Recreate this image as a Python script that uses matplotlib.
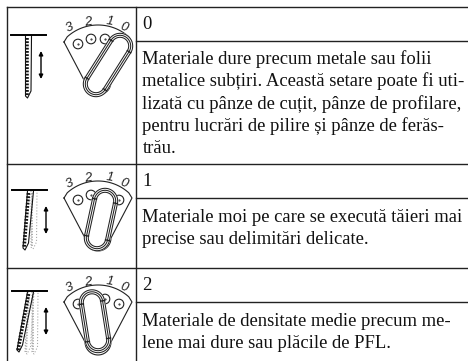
import numpy as np
import matplotlib
matplotlib.use("Agg")
import matplotlib.pyplot as plt

W, H = 468, 361

setari = ["0", "1", "2"]
texte = [
    ["Materiale dure precum metale sau folii",
     "metalice subțiri. Această setare poate fi uti-",
     "lizată cu pânze de cuțit, pânze de profilare,",
     "pentru lucrări de pilire și pânze de ferăs-",
     "trău."],
    ["Materiale moi pe care se execută tăieri mai",
     "precise sau delimitări delicate."],
    ["Materiale de densitate medie precum me-",
     "lene mai dure sau plăcile de PFL."],
]
y_numar = [29, 186.5, 290.5]
y_text = [64, 221.5, 325.5]
linii_rand = [7, 163.5, 267.5]
linii_sub = [41, 198, 302]
# decalaj pe verticala pentru fiecare desen
dy_desen = [0, 155, 256]
dy_dial = [0, 156, 260]
x_bara = [(11, 46), (12, 47), (12, 47)]
x_sageata = [41, 46, 46]
# capsula: centru sus, centru jos
capsule = [((120, 46), (96, 84)), ((105, 46), (97, 83)), ((92, 46.5), (98, 84))]
gauri = [(78, 44), (91, 39), (105, 39), (119, 44)]
etichete_dial = ["3", "2", "1", "0"]
poz_etichete = [(70, 28), (88, 22), (110, 22), (124, 27)]
rot_etichete = [25, 10, -8, -20]
# pana: varf pe bara si capat jos
pana_neagra = [((28.5, 36), (28.5, 96)), ((30.5, 36), (26, 93)), ((30.5, 36), (20, 94))]
pana_gri = [[], [((34, 36), (34, 92))], [((35, 36), (35, 96)), ((31, 36), (28, 96))]]

plt.rcParams["font.family"] = ["Liberation Serif", "DejaVu Serif"]
fig = plt.figure(figsize=(W / 100, H / 100), dpi=100)
ax = fig.add_axes([0, 0, 1, 1])
ax.set_xlim(0, W)
ax.set_ylim(H, 0)
ax.axis("off")


def capsula(p1, p2, r, fill=False):
    p1, p2 = np.array(p1, float), np.array(p2, float)
    a = np.arctan2(p2[1] - p1[1], p2[0] - p1[0])
    t1 = np.linspace(a + np.pi / 2, a + 3 * np.pi / 2, 30)
    t2 = np.linspace(a - np.pi / 2, a + np.pi / 2, 30)
    x = np.r_[p1[0] + r * np.cos(t1), p2[0] + r * np.cos(t2), p1[0] + r * np.cos(t1[0])]
    y = np.r_[p1[1] + r * np.sin(t1), p2[1] + r * np.sin(t2), p1[1] + r * np.sin(t1[0])]
    if fill:
        ax.fill(x, y, color="white", zorder=4)
    ax.plot(x, y, color="#222222", lw=0.75, zorder=5)


def dial(dy, dy2, idx):
    # conturul evantaiului
    t = np.linspace(np.radians(-42), np.radians(42), 40)
    R = 46
    xa = 98 + R * np.sin(t)
    ya = 25 + R * (1 - np.cos(t))
    tb = np.linspace(np.pi, 0, 20)
    xb = 98 + 13 * np.cos(tb)
    yb = 82 + 13 * np.sin(tb)
    x = np.r_[64, xa, 132, xb[::-1], 64]
    y = np.r_[42, ya, 42, yb[::-1], 42]
    ax.plot(x, y + dy2, color="#222222", lw=0.8, zorder=3)
    for (gx, gy) in gauri:
        c = plt.Circle((gx, gy + dy2), 4.8, fc="white", ec="#222222", lw=0.8, zorder=3)
        ax.add_patch(c)
        ax.plot([gx], [gy + dy2], ".", ms=1, color="#222222", zorder=3)
    for s, (lx, ly), rot in zip(etichete_dial, poz_etichete, rot_etichete):
        ax.text(lx, ly + dy2, s, fontsize=9.5, style="italic", family="Liberation Sans", rotation=rot,
                ha="center", va="center", color="#222222", zorder=6)
    p1, p2 = capsule[idx]
    p1 = (p1[0], p1[1] + dy)
    p2 = (p2[0], p2[1] + dy)
    capsula(p1, p2, 12.7, fill=True)
    for r in [10.7, 8.7]:
        capsula(p1, p2, r)
    # liniutele de la capetele zonei drepte
    a = np.arctan2(p2[1] - p1[1], p2[0] - p1[0]) + np.pi / 2
    for c in (p1, p2):
        for s in (-1, 1):
            ax.plot([c[0] + s * 8.7 * np.cos(a), c[0] + s * 12.7 * np.cos(a)],
                    [c[1] + s * 8.7 * np.sin(a), c[1] + s * 12.7 * np.sin(a)],
                    color="#222222", lw=1.0, zorder=5)


def pana(p1, p2, dy, culoare, ls, dinti):
    x1, y1 = p1
    x2, y2 = p2
    xs = [x1 - 3, x2 - 3, x2 - 1, x2 + 2.5, x1 + 3]
    ys = [y1, y2, y2 + 2, y2 - 5, y1]
    ax.plot(xs, np.array(ys) + dy, color=culoare, lw=0.8, ls=ls, zorder=2)
    if dinti:
        ax.plot([x1 - 2, x2 - 2], [y1 + 2 + dy, y2 + dy], color=culoare, lw=2.6, ls=(0, (0.5, 0.4)), zorder=3)
    else:
        ax.plot([x1 - 2, x2 - 2], [y1 + 2 + dy, y2 + dy], color=culoare, lw=1.4, ls=(0, (0.6, 0.8)), zorder=2)


# grila tabelului
ax.plot([7, 7], [7, H], color="#222222", lw=1.0)
ax.plot([135.5, 135.5], [7, H], color="#222222", lw=1.0)
for y in linii_rand:
    ax.plot([7, W], [y, y], color="#222222", lw=1.0)
for y in linii_sub:
    ax.plot([135.5, W], [y, y], color="#222222", lw=1.0)

for i in range(3):
    dy = dy_desen[i]
    ax.text(142.5, y_numar[i], setari[i], fontsize=13.4, va="baseline", ha="left", color="#111111")
    for j, rand in enumerate(texte[i]):
        ax.text(142.5, y_text[i] + j * 22.3, rand, fontsize=13.4, va="baseline", ha="left", color="#111111")
    # bara si sageata
    ax.plot(x_bara[i], [35 + dy, 35 + dy], color="black", lw=1.4, zorder=4)
    ax.annotate("", xy=(x_sageata[i], 51 + dy), xytext=(x_sageata[i], 79 + dy),
                arrowprops=dict(arrowstyle="<|-|>", color="black", lw=1.0, mutation_scale=6, shrinkA=0, shrinkB=0))
    for p1, p2 in pana_gri[i]:
        pana(p1, p2, dy, "#aaaaaa", ":", False)
    pana(pana_neagra[i][0], pana_neagra[i][1], dy, "#111111", "-", True)
    dial(dy, dy_dial[i], i)

plt.savefig("out.png", dpi=100)
